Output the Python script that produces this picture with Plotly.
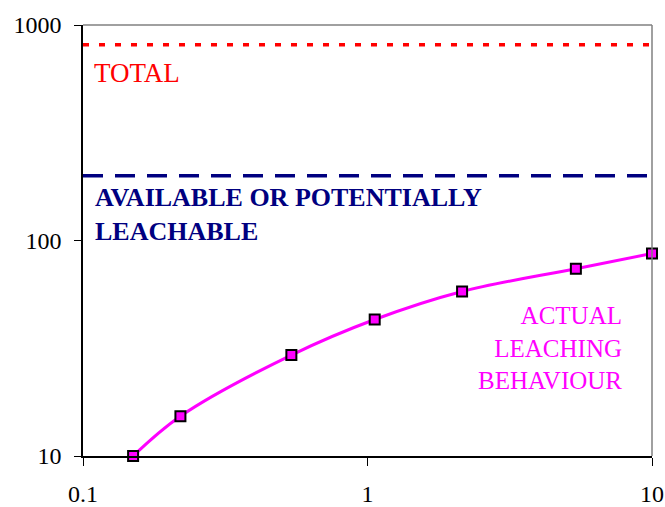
import plotly.graph_objects as go

# Data
x_vals = [0.15, 0.22, 0.54, 1.06, 2.15, 5.4, 10]
y_vals = [10, 15.3, 29.4, 43, 58, 74, 87]
total_level = 810
available_level = 200
x_range = [0.1, 10]
x_ticks = [0.1, 1, 10]
x_ticklabels = ["0.1", "1", "10"]
y_ticks = [10, 100, 1000]
y_ticklabels = ["10", "100", "1000"]

SERIF = "Liberation Serif, Times New Roman, serif"

fig = go.Figure()
fig.add_trace(go.Scatter(
    x=x_range, y=[total_level, total_level], mode="lines",
    line=dict(color="#ff0000", width=3.5, dash="6px,10px"), hoverinfo="skip"))
fig.add_trace(go.Scatter(
    x=x_range, y=[available_level, available_level], mode="lines",
    line=dict(color="#000080", width=3.5, dash="20px,12px"), hoverinfo="skip"))
fig.add_trace(go.Scatter(
    x=x_vals, y=y_vals, mode="lines+markers",
    line=dict(color="#ff00ff", width=3, shape="spline"),
    marker=dict(symbol="square", size=10, color="#ff00ff",
                line=dict(color="black", width=2)),
    cliponaxis=False))

fig.add_annotation(x=0, y=0.889, xref="paper", yref="paper",
                   text="TOTAL", showarrow=False, xanchor="left", yanchor="middle",
                   xshift=9, font=dict(family=SERIF, size=27, color="#ff0000"))
fig.add_annotation(x=0, y=0.560, xref="paper", yref="paper",
                   text="<b>AVAILABLE OR POTENTIALLY<br>LEACHABLE</b>", showarrow=False,
                   xanchor="left", yanchor="middle", align="left", xshift=10,
                   font=dict(family=SERIF, size=26, color="#000080"))
fig.add_annotation(x=1, y=0.2506, xref="paper", yref="paper",
                   text="ACTUAL<br>LEACHING<br>BEHAVIOUR", showarrow=False,
                   xanchor="right", yanchor="middle", align="right", xshift=-28,
                   font=dict(family=SERIF, size=25, color="#ff00ff"))

fig.update_xaxes(type="log", range=[-1, 1], tickvals=x_ticks, ticktext=x_ticklabels,
                 showgrid=False, zeroline=False, automargin=False,
                 showline=True, linecolor="black", linewidth=1.5,
                 ticks="outside", ticklen=8, tickcolor="black", ticklabelstandoff=7,
                 tickfont=dict(family=SERIF, size=24, color="black"))
fig.update_yaxes(type="log", range=[1, 3], tickvals=y_ticks, ticktext=y_ticklabels,
                 showgrid=False, zeroline=False, automargin=False,
                 showline=True, linecolor="black", linewidth=1.5,
                 ticks="outside", ticklen=7, tickcolor="black", ticklabelstandoff=8,
                 tickfont=dict(family=SERIF, size=24, color="black"))

fig.add_shape(type="line", xref="paper", yref="paper", x0=0, x1=1, y0=1, y1=1,
              line=dict(color="#808080", width=1.5))
fig.add_shape(type="line", xref="paper", yref="paper", x0=1, x1=1, y0=0, y1=1,
              line=dict(color="#808080", width=1.5))

fig.update_layout(width=665, height=507, showlegend=False,
                  margin=dict(l=83, r=13, t=25, b=51),
                  plot_bgcolor="white", paper_bgcolor="white")

fig.write_html(
    "out.html",
    config={"displayModeBar": False},
    post_script="document.body.style.margin='0';document.body.style.overflow='hidden';",
)
